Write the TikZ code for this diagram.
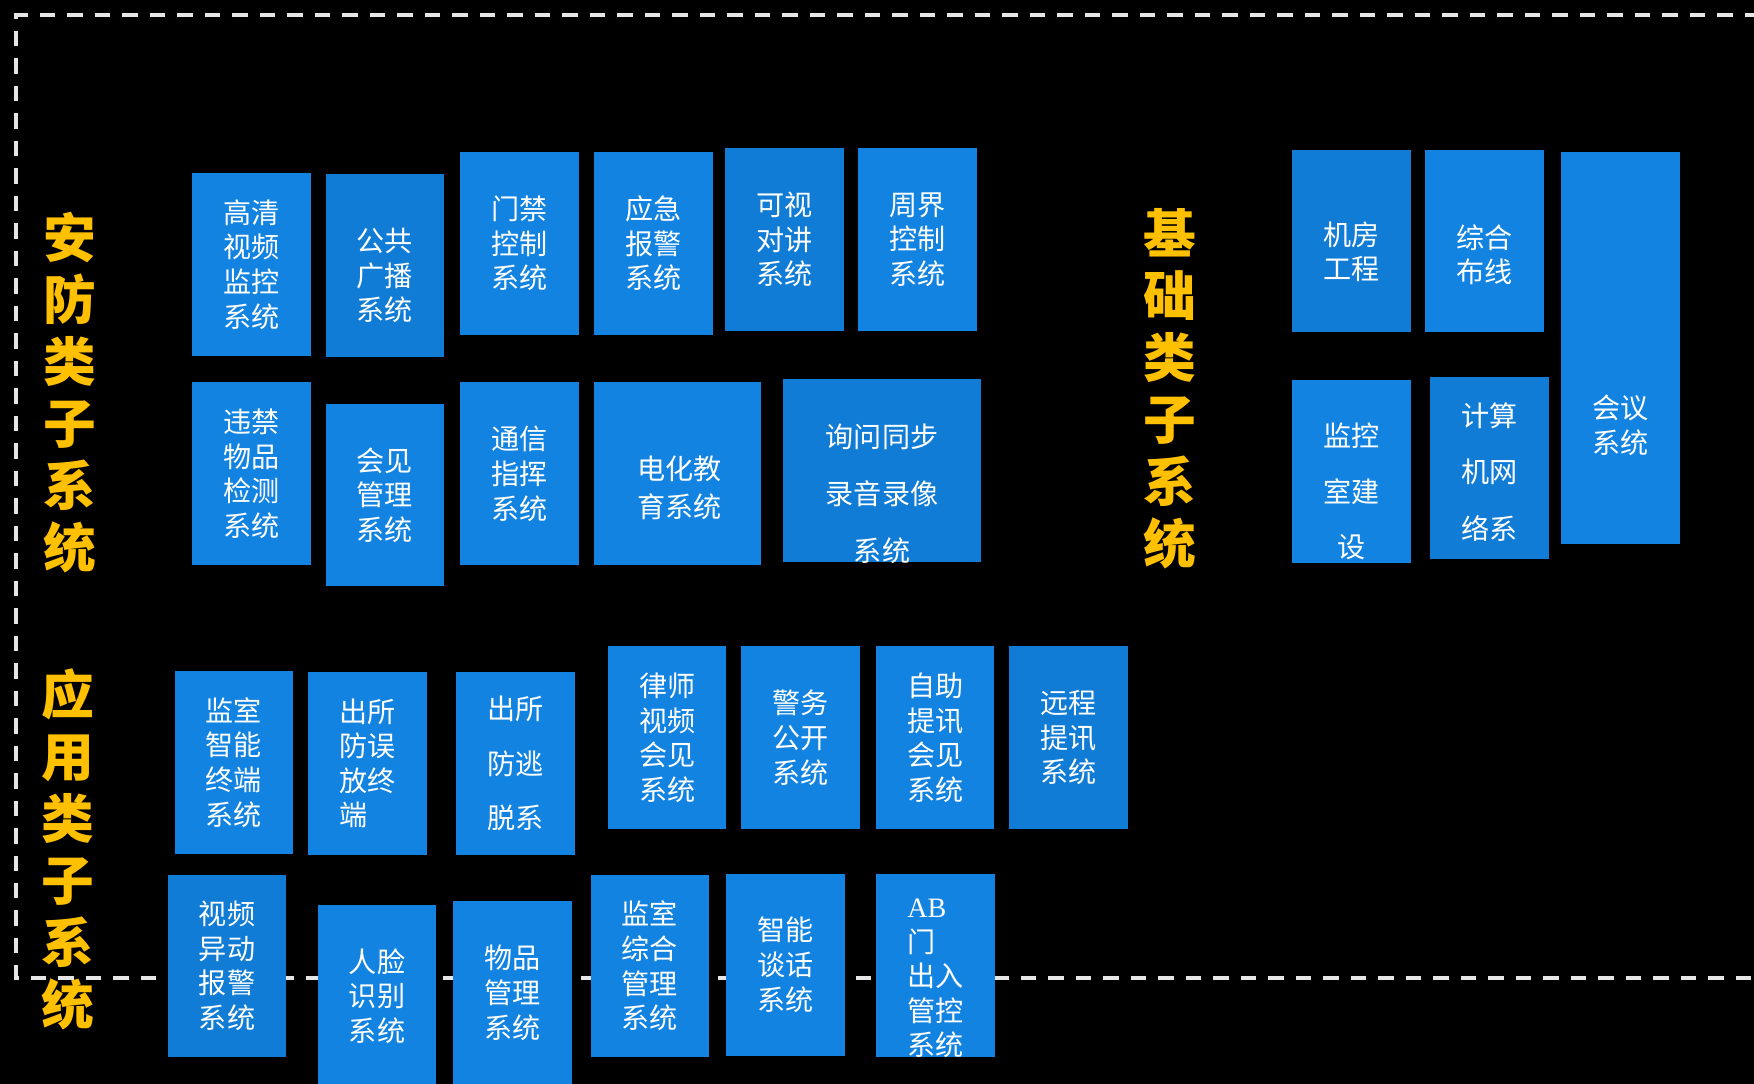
\documentclass[tikz,border=0pt]{standalone}
\usepackage{fontspec}
\newfontfamily\cjk{Noto Sans CJK SC}
\newfontfamily\abfont{Liberation Serif}
\definecolor{boxblue}{HTML}{1283E1}
\definecolor{boxdark}{HTML}{117CD6}
\definecolor{titleyellow}{HTML}{FFC000}
\definecolor{framegray}{HTML}{E6E6E6}
\tikzset{
  boxtext/.style={text=white, align=center, inner sep=0pt,
    font=\cjk\fontsize{16}{#1}\selectfont},
  boxtext/.default=19.7,
  sysbox/.style={boxtext=#1, fill=boxblue, minimum width=2.37cm, minimum height=3.65cm},
  sysbox/.default=19.7,
  grouptitle/.style={text=titleyellow, align=center, inner sep=0pt,
    font=\cjk\bfseries\fontsize{30}{35.3}\selectfont},
}
\begin{document}
\begin{tikzpicture}[x=0.02cm, y=-0.02cm]
    \fill[black] (0,0) rectangle (1754,1084);
    \useasboundingbox (0,0) rectangle (1754,1084);
    % --- 虚线框 ---
    \draw[framegray, line width=0.08cm, dash pattern=on 0.31cm off 0.24cm]
      (1760,15) -- (16,15) -- (16,978) -- (1760,978);
    % --- 分组标题 ---
    \node[grouptitle] (afTitle) at (69.5,392.5) {安\\防\\类\\子\\系\\统};
    \node[grouptitle] (jcTitle) at (1170,389)  {基\\础\\类\\子\\系\\统};
    \node[grouptitle] (yyTitle) at (68,849.5)  {应\\用\\类\\子\\系\\统};
    % --- 安防类：第一排 ---
    \node[sysbox] (gqsp) at (251.7,264.5) {高清\\视频\\监控\\系统};
    \node[sysbox, fill=boxdark] (ggbb) at (384.8,265.7) {};
    \node[boxtext] (ggbbText) at ([yshift=-0.2cm]ggbb.center) {公共\\广播\\系统};
    \node[sysbox] (mjkz) at (519.6,243.3) {门禁\\控制\\系统};
    \node[sysbox] (yjbj) at (653.3,243.3) {应急\\报警\\系统};
    \node[sysbox, fill=boxdark] (ksdj) at (784.7,239.4) {可视\\对讲\\系统};
    \node[sysbox] (zjkz) at (917.3,239.4) {周界\\控制\\系统};
    % --- 安防类：第二排 ---
    \node[sysbox] (wjwp) at (251.7,473.7) {违禁\\物品\\检测\\系统};
    \node[sysbox] (hjgl) at (384.8,495.0) {会见\\管理\\系统};
    \node[sysbox] (txzh) at (519.6,473.7) {通信\\指挥\\系统};
    \node[sysbox, minimum width=3.33cm] (dhjy) at (677.3,473.7) {};
    \node[boxtext=21.6] (dhjyText) at ([xshift=0.04cm, yshift=-0.28cm]dhjy.center) {电化教\\育系统};
    \node[sysbox, fill=boxdark, minimum width=3.96cm] (xwtb) at (882,470.4) {};
    \node[boxtext=32.5] (xwtbText) at ([yshift=-0.47cm]xwtb.center) {询问同步\\录音录像\\系统};
    % --- 基础类 ---
    \node[sysbox, fill=boxdark] (jfgc) at (1351.3,241.1) {};
    \node[boxtext] (jfgcText) at ([yshift=-0.21cm]jfgc.center) {机房\\工程};
    \node[sysbox] (zhbx) at (1484.4,241.1) {};
    \node[boxtext] (zhbxText) at ([yshift=-0.27cm]zhbx.center) {综合\\布线};
    \node[sysbox, minimum height=7.83cm] (hyxt) at (1620.5,348) {};
    \node[boxtext] (hyxtText) at ([yshift=-1.54cm]hyxt.center) {会议\\系统};
    \node[sysbox] (jksj) at (1351.3,471.5) {};
    \node[boxtext=31.5] (jksjText) at ([yshift=-0.4cm]jksj.center) {监控\\室建\\设};
    \node[sysbox, fill=boxdark] (jsjw) at (1489.4,468.1) {};
    \node[boxtext=32] (jsjwText) at ([yshift=-0.08cm]jsjw.center) {计算\\机网\\络系};
    % --- 应用类：第一排 ---
    \node[sysbox] (jszn) at (233.8,762.3) {监室\\智能\\终端\\系统};
    \node[sysbox, align=left] (cswf) at (367.5,763.4) {出所\\防误\\放终\\端};
    \node[sysbox=31] (csft) at (515.7,763.4) {出所\\防逃\\脱系};
    \node[sysbox] (lssp) at (667.2,737.7) {律师\\视频\\会见\\系统};
    \node[sysbox] (jwgk) at (800.4,737.7) {警务\\公开\\系统};
    \node[sysbox] (zztx) at (935.1,737.7) {自助\\提讯\\会见\\系统};
    \node[sysbox, fill=boxdark] (yctx) at (1068.3,737.7) {远程\\提讯\\系统};
    % --- 应用类：第二排 ---
    \node[sysbox, fill=boxdark] (spyd) at (227.1,965.9) {视频\\异动\\报警\\系统};
    \node[sysbox] (rlsb) at (377,996) {人脸\\识别\\系统};
    \node[sysbox] (wpgl) at (512.3,992.7) {物品\\管理\\系统};
    \node[sysbox] (jszh) at (649.9,965.9) {监室\\综合\\管理\\系统};
    \node[sysbox] (znth) at (785.3,964.8) {智能\\谈话\\系统};
    \node[sysbox] (abmc) at (935.5,965.5) {};
    \node[boxtext, align=left] (abmcText) at ([yshift=-0.26cm]abmc.center)
      {{\abfont AB}\\门\\出入\\管控\\系统};
  \end{tikzpicture}
\end{document}
